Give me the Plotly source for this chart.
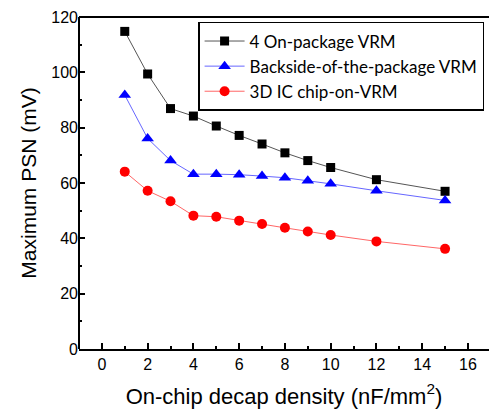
import plotly.graph_objects as go

x_vals = [1, 2, 3, 4, 5, 6, 7, 8, 9, 10, 12, 15]
onpkg = [114.8, 99.4, 86.9, 84.2, 80.6, 77.2, 74.1, 70.9, 68.1, 65.6, 61.2, 57.0]
backside = [91.8, 76.1, 68.1, 63.2, 63.2, 63.0, 62.5, 61.9, 60.8, 59.7, 57.2, 53.7]
chip3d = [64.1, 57.2, 53.4, 48.2, 47.8, 46.4, 45.2, 43.8, 42.5, 41.2, 38.9, 36.2]

names = ["4 On-package VRM", "Backside-of-the-package VRM", "3D IC chip-on-VRM"]
series = [onpkg, backside, chip3d]
line_colors = ["#555555", "#6666ff", "#ff6666"]
marker_colors = ["#000000", "#0000ff", "#ff0000"]
symbols = ["square", "triangle-up", "circle"]
msizes = [9, 11, 10]

fig = go.Figure()
for nm, ys, lc, mc, sym, ms in zip(names, series, line_colors, marker_colors, symbols, msizes):
    fig.add_trace(go.Scatter(
        x=x_vals, y=ys, name=nm, mode="lines+markers",
        line=dict(color=lc, width=1),
        marker=dict(symbol=sym, color=mc, size=ms),
    ))

# frame: top and left lines (the right side of the frame is cropped off in the reference)
fig.add_shape(type="line", xref="paper", yref="paper", x0=0, x1=1, y0=1, y1=1,
              line=dict(color="#000000", width=2))
fig.add_shape(type="line", xref="paper", yref="paper", x0=0, x1=0, y0=0, y1=1,
              line=dict(color="#000000", width=2))

fig.update_layout(
    width=489, height=411,
    margin=dict(l=79, r=0, t=17, b=62, autoexpand=False),
    plot_bgcolor="white", paper_bgcolor="white",
    font=dict(family="Liberation Sans, Arial", color="#000000"),
    showlegend=True,
    legend=dict(
        x=0.988, y=0.985, xanchor="right", yanchor="top",
        bgcolor="white", bordercolor="#000000", borderwidth=1.5,
        font=dict(family="Lato", size=17, color="#000000"),
        tracegroupgap=0, itemwidth=40,
    ),
    xaxis=dict(
        range=[-1, 16.92], showgrid=False, zeroline=False,
        showline=True, linecolor="#000000", linewidth=2, mirror=False,
        ticks="inside", tickcolor="#000000", ticklen=6, tickwidth=2,
        tickmode="array", tickvals=[0, 2, 4, 6, 8, 10, 12, 14, 16],
        minor=dict(tickmode="array", tickvals=[1, 3, 5, 7, 9, 11, 13, 15],
                   ticks="inside", ticklen=3, tickwidth=2, tickcolor="#000000"),
        tickfont=dict(size=16),
        title=dict(text="On-chip decap density (nF/mm<sup>2</sup>)",
                   font=dict(size=22), standoff=16),
    ),
    yaxis=dict(
        range=[0, 120], showgrid=False, zeroline=False,
        showline=False,
        ticks="inside", tickcolor="#000000", ticklen=6, tickwidth=2,
        tickmode="array", tickvals=[0, 20, 40, 60, 80, 100, 120],
        minor=dict(tickmode="array", tickvals=[10, 30, 50, 70, 90, 110],
                   ticks="inside", ticklen=3, tickwidth=2, tickcolor="#000000"),
        tickfont=dict(size=16),
        title=dict(text="Maximum PSN (mV)", font=dict(size=21), standoff=8),
    ),
)

fig.write_html("out.html")
